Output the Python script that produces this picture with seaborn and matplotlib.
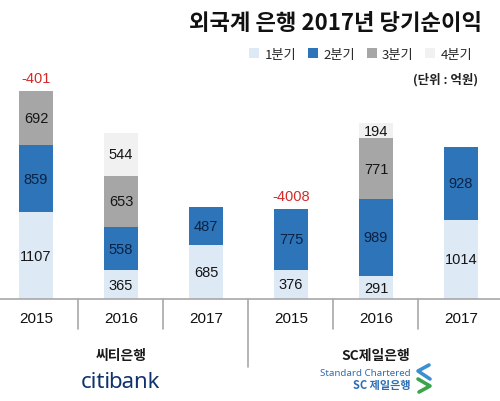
import numpy as np
import pandas as pd
import seaborn as sns
import matplotlib.pyplot as plt
from matplotlib.patches import Patch
from matplotlib.lines import Line2D

# 데이터 (단위: 억원)
banks = ['씨티은행', '씨티은행', '씨티은행', 'SC제일은행', 'SC제일은행', 'SC제일은행']
years = ['2015', '2016', '2017', '2015', '2016', '2017']
q1 = [1107, 365, 685, 376, 291, 1014]
q2 = [859, 558, 487, 775, 989, 928]
q3 = [692, 653, np.nan, -4008, 771, np.nan]
q4 = [-401, 544, np.nan, np.nan, 194, np.nan]
quarters = ['1분기', '2분기', '3분기', '4분기']
colors = ['#dde9f5', '#2e74b8', '#a6a6a6', '#f1f1f1']
text_colors = ['#151515', '#0b2244', '#151515', '#151515']

sns.set_theme(style='white')
plt.rcParams['font.family'] = ['Noto Sans CJK KR', 'DejaVu Sans']
num_font = ['Liberation Sans', 'DejaVu Sans']

df = pd.DataFrame({'bank': banks, 'year': years, 'q1': q1, 'q2': q2, 'q3': q3, 'q4': q4})
df['key'] = df['bank'] + ' ' + df['year']
vals = df[['q1', 'q2', 'q3', 'q4']].to_numpy()
pos = np.clip(np.nan_to_num(vals), 0, None)
cum = pos.cumsum(axis=1)

fig = plt.figure(figsize=(5, 4.02), dpi=100)
ax = fig.add_axes([0, 102 / 402, 1, 235 / 402])

# 누적값을 큰 것부터 그려서 쌓인 막대처럼 보이게
for k in range(3, -1, -1):
    sns.barplot(x=df['key'], y=cum[:, k], color=colors[k], saturation=1,
                width=0.4, linewidth=0, ax=ax)

for i in range(len(df)):
    for k in range(4):
        v = vals[i, k]
        if np.isnan(v):
            continue
        if v > 0:
            ax.text(i, cum[i, k] - v / 2, f'{int(v)}', ha='center', va='center',
                    fontsize=10.5, color=text_colors[k], family=num_font)
        else:
            ax.annotate(f'{int(v)}', (i, cum[i, -1]), xytext=(0, 4),
                        textcoords='offset points', ha='center', va='bottom',
                        fontsize=10.5, color='#d42a2a', family=num_font)

ax.set_xlim(-0.4235, 5.459)
ax.set_ylim(0, 3000)
ax.set_yticks([])
ax.set_xlabel('')
ax.set_ylabel('')
ax.set_xticks(range(len(df)))
ax.set_xticklabels(years, fontsize=11, family=num_font, color='#111111')
ax.tick_params(axis='x', length=0, pad=9)
for s in ['top', 'left', 'right']:
    ax.spines[s].set_visible(False)
ax.spines['bottom'].set_color('#a8a8a8')
ax.spines['bottom'].set_linewidth(1.2)

# 구분선
trans = ax.get_xaxis_transform()
for b in [0.5, 1.5, 2.5, 3.5, 4.5]:
    low = -0.29 if b == 2.5 else -0.128
    ax.plot([b, b], [0, low], color='#a8a8a8', lw=1.2, transform=trans, clip_on=False)

ax.text(1, -0.238, '씨티은행', transform=trans, ha='center', va='center',
        fontsize=10, fontweight='bold', color='#1a1a1a')
ax.text(4, -0.238, 'SC제일은행', transform=trans, ha='center', va='center',
        fontsize=10, fontweight='bold', color='#1a1a1a')

# 제목, 범례, 단위
fig.text(482 / 500, 1 - 23 / 402, '외국계 은행 2017년 당기순이익', ha='right', va='center',
         fontsize=16, fontweight='heavy', color='#111111')
handles = [Patch(facecolor=c, edgecolor='none') for c in colors]
fig.legend(handles, quarters, loc='center right', bbox_to_anchor=(484 / 500, 1 - 55 / 402),
           ncol=4, frameon=False, fontsize=9.5, handlelength=0.75, handleheight=0.75,
           handletextpad=0.4, columnspacing=0.9)
fig.text(478 / 500, 1 - 80 / 402, '(단위 : 억원)', ha='right', va='center',
         fontsize=9, fontweight='bold', color='#222222')

# 로고 (텍스트로 대체)
fig.text(111 / 500, 1 - 388 / 402, 'citi', ha='right', va='baseline', fontsize=16,
         fontweight='bold', color='#0f336e', family=['Noto Sans'])
fig.text(108 / 500, 1 - 388 / 402, 'bank', ha='left', va='baseline', fontsize=16,
         color='#0f336e', family=['Noto Sans'])
fig.text(411 / 500, 1 - 374 / 402, 'Standard Chartered', ha='right', va='center',
         fontsize=7, color='#2c6db3', family=['Noto Sans'])
fig.text(411 / 500, 1 - 386 / 402, 'SC 제일은행', ha='right', va='center',
         fontsize=8, fontweight='bold', color='#2c6db3')


def px(xs, ys):
    return [x / 500 for x in xs], [1 - y / 402 for y in ys]


bx, by = px([429, 418, 430], [366, 372, 380])
gx, gy = px([418, 430, 419], [380, 387, 393])
fig.add_artist(Line2D(bx, by, color='#3d8fd0', lw=2.6, transform=fig.transFigure,
                      solid_capstyle='round'))
fig.add_artist(Line2D(gx, gy, color='#3aa54a', lw=2.6, transform=fig.transFigure,
                      solid_capstyle='round'))

fig.savefig('out.png', dpi=100, facecolor='white')
